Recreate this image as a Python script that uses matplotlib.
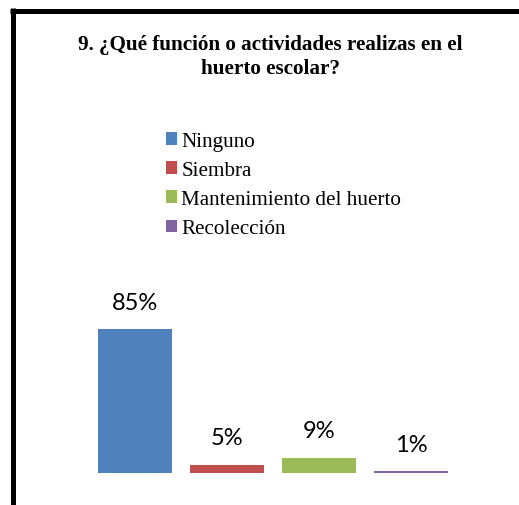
import matplotlib
matplotlib.use("Agg")
import matplotlib.pyplot as plt
from matplotlib.lines import Line2D

categories = ["Ninguno", "Siembra", "Mantenimiento del huerto", "Recolección"]
values = [85, 5, 9, 1]
labels = ["85%", "5%", "9%", "1%"]
colors = ["#4F81BD", "#C0504D", "#9BBB59", "#8064A2"]
title = "9. ¿Qué función o actividades realizas en el\nhuerto escolar?"

W, H = 519, 506
fig = plt.figure(figsize=(W / 100, H / 100), dpi=100)
fig.patch.set_facecolor("white")

ax = fig.add_axes([89 / W, 32 / H, 368 / W, 169 / H])
x = list(range(len(categories)))
bars = ax.bar(x, values, width=0.8, color=colors, label=categories)
ax.set_xlim(-0.5, len(categories) - 0.5)
ax.set_ylim(0, 100)
ax.axis("off")
for xi, v, lab in zip(x, values, labels):
    ax.annotate(lab, (xi, v), xytext=(0, 27), textcoords="offset pixels",
                ha="center", va="center", fontsize=17, family="Lato",
                color="#000000")

fig.text(270.5 / W, 1 - 57 / H, title, ha="center", va="center",
         family="Liberation Serif", fontweight="bold", fontsize=15.2,
         linespacing=1.27)

handles = [bars[i] for i in range(len(categories))]
leg = fig.legend(handles, categories, loc="upper left",
                 bbox_to_anchor=(165.5 / W, 1 - 133 / H), frameon=False,
                 prop={"family": "Liberation Serif", "size": 15.2},
                 handlelength=0.55, handleheight=0.55, handletextpad=0.2,
                 labelspacing=0.48, borderpad=0, borderaxespad=0)

# frame lines (top and left)
fig.add_artist(Line2D([10 / W, 1.0], [1 - 11.5 / H, 1 - 11.5 / H],
                      transform=fig.transFigure, color="black", lw=3.6,
                      solid_capstyle="butt"))
fig.add_artist(Line2D([12.5 / W, 12.5 / W], [1 - 9 / H, 0],
                      transform=fig.transFigure, color="black", lw=3.6,
                      solid_capstyle="butt"))

fig.savefig("out.png", dpi=100, facecolor="white")
